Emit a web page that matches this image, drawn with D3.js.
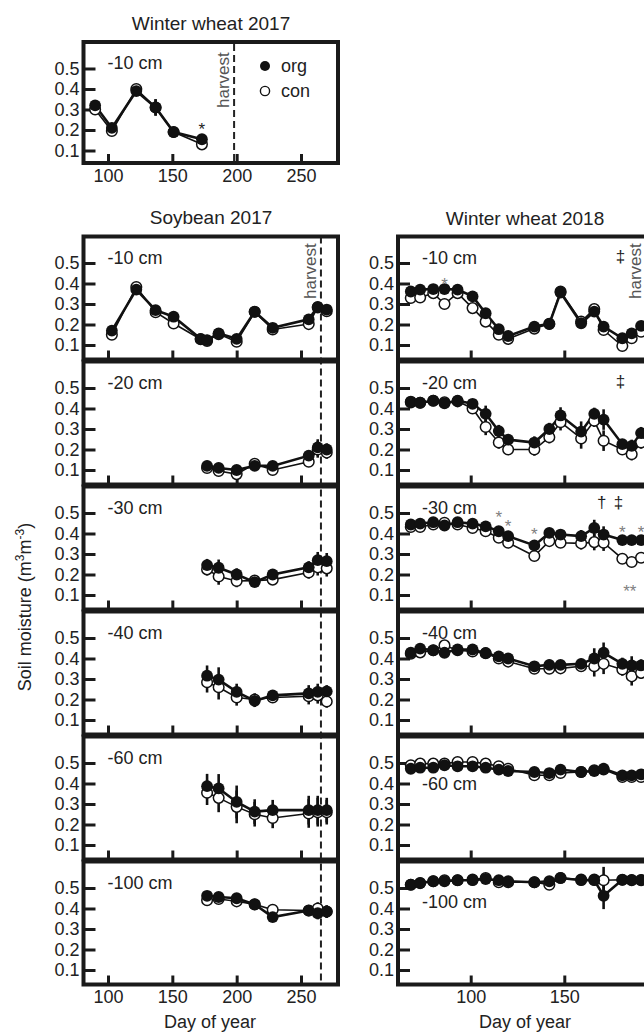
<!DOCTYPE html>
<meta charset="utf-8">
<style>
body { margin: 0; background: #fff; }
svg { display: block; font-family: "Liberation Sans", Arial, Helvetica, sans-serif; }
.axis path { display: none; }
.axis line { stroke: #1a1a1a; stroke-width: 3; }
.axis text { font-size: 18px; fill: #222; font-family: "Liberation Sans", Arial, sans-serif; }
.frame { fill: none; stroke: #1a1a1a; stroke-width: 4; }
</style>
<svg width="644" height="1033"></svg>
<script src="https://d3js.org/d3.v7.min.js"></script>
<script>
// --- data -------------------------------------------------------------
var depths = ['-10 cm', '-20 cm', '-30 cm', '-40 cm', '-60 cm', '-100 cm'];
var yTicks = [0.1, 0.2, 0.3, 0.4, 0.5];
var leftTicks = [100, 150, 200, 250];
var rightTicks = [100, 150];

// winter wheat 2017, -10 cm
var ww17Days = [90, 103, 122, 137, 151, 173];
var ww17Org = [0.32, 0.21, 0.39, 0.31, 0.19, 0.155];
var ww17Con = [0.30, 0.195, 0.40, 0.31, 0.19, 0.13];
var ww17Err = [0.015, 0.015, 0.015, 0.04, 0.01, 0.015];
var ww17Harvest = 198;

// soybean 2017
var soyDays = [
  [103, 122, 137, 151, 172, 177, 186, 200, 214, 228, 256, 263, 270],
  [177, 186, 200, 214, 228, 256, 263, 270],
  [177, 186, 200, 214, 228, 256, 263, 270],
  [177, 186, 200, 214, 228, 256, 263, 270],
  [177, 186, 200, 214, 228, 256, 263, 270],
  [177, 186, 200, 214, 228, 256, 263, 270]
];
var soyOrg = [
  [0.17, 0.37, 0.27, 0.238, 0.13, 0.124, 0.157, 0.13, 0.262, 0.184, 0.225, 0.286, 0.273],
  [0.12, 0.11, 0.10, 0.12, 0.12, 0.17, 0.21, 0.20],
  [0.246, 0.233, 0.20, 0.163, 0.20, 0.235, 0.27, 0.265],
  [0.316, 0.297, 0.237, 0.193, 0.22, 0.23, 0.237, 0.24],
  [0.387, 0.376, 0.31, 0.263, 0.27, 0.27, 0.27, 0.27],
  [0.462, 0.456, 0.45, 0.42, 0.358, 0.39, 0.377, 0.385]
];
var soyCon = [
  [0.15, 0.383, 0.26, 0.205, 0.128, 0.12, 0.153, 0.116, 0.262, 0.176, 0.202, 0.283, 0.265],
  [0.11, 0.095, 0.08, 0.13, 0.10, 0.14, 0.20, 0.185],
  [0.225, 0.19, 0.168, 0.17, 0.175, 0.21, 0.235, 0.23],
  [0.284, 0.26, 0.21, 0.20, 0.21, 0.216, 0.22, 0.19],
  [0.355, 0.33, 0.286, 0.25, 0.232, 0.254, 0.26, 0.26],
  [0.44, 0.446, 0.435, 0.42, 0.394, 0.39, 0.40, 0.385]
];
var soyErr = [
  [0.01, 0.01, 0.01, 0.01, 0.01, 0.01, 0.01, 0.01, 0.01, 0.01, 0.01, 0.01, 0.01],
  [0.025, 0.025, 0.02, 0.02, 0.015, 0.02, 0.04, 0.03],
  [0.03, 0.04, 0.03, 0.02, 0.015, 0.03, 0.04, 0.04],
  [0.05, 0.06, 0.04, 0.03, 0.02, 0.04, 0.04, 0.03],
  [0.06, 0.07, 0.08, 0.06, 0.05, 0.07, 0.07, 0.06],
  [0.02, 0.02, 0.02, 0.015, 0.02, 0.015, 0.03, 0.03]
];
var soyHarvest = 265.5;

// winter wheat 2018
var wwDays = [68, 73, 80, 86, 93, 101, 108, 115, 120, 134, 142, 148, 159, 166, 171, 181, 186, 191];
var wwOrg = [
  [0.361, 0.37, 0.373, 0.373, 0.37, 0.337, 0.255, 0.177, 0.144, 0.19, 0.203, 0.356, 0.206, 0.263, 0.19, 0.133, 0.157, 0.193],
  [0.434, 0.428, 0.438, 0.425, 0.438, 0.423, 0.374, 0.29, 0.248, 0.234, 0.30, 0.366, 0.287, 0.374, 0.346, 0.226, 0.218, 0.28],
  [0.444, 0.448, 0.455, 0.439, 0.455, 0.448, 0.435, 0.411, 0.387, 0.342, 0.403, 0.395, 0.387, 0.427, 0.395, 0.368, 0.368, 0.368],
  [0.428, 0.448, 0.44, 0.428, 0.444, 0.444, 0.426, 0.41, 0.40, 0.362, 0.369, 0.369, 0.374, 0.40, 0.428, 0.374, 0.366, 0.366],
  [0.472, 0.477, 0.477, 0.489, 0.484, 0.484, 0.477, 0.468, 0.461, 0.456, 0.451, 0.468, 0.456, 0.461, 0.472, 0.44, 0.44, 0.445],
  [0.516, 0.524, 0.533, 0.533, 0.538, 0.538, 0.544, 0.538, 0.533, 0.528, 0.533, 0.549, 0.538, 0.538, 0.462, 0.54, 0.54, 0.54]
];
var wwCon = [
  [0.329, 0.332, 0.353, 0.30, 0.353, 0.28, 0.214, 0.15, 0.13, 0.18, 0.203, 0.361, 0.214, 0.275, 0.173, 0.095, 0.133, 0.165],
  [0.43, 0.428, 0.438, 0.43, 0.435, 0.40, 0.31, 0.234, 0.20, 0.20, 0.26, 0.333, 0.254, 0.34, 0.243, 0.20, 0.177, 0.234],
  [0.432, 0.432, 0.444, 0.452, 0.444, 0.427, 0.411, 0.379, 0.355, 0.29, 0.363, 0.355, 0.352, 0.358, 0.355, 0.277, 0.261, 0.282],
  [0.423, 0.43, 0.44, 0.464, 0.44, 0.434, 0.426, 0.40, 0.385, 0.35, 0.35, 0.352, 0.362, 0.362, 0.374, 0.346, 0.313, 0.33],
  [0.489, 0.497, 0.497, 0.497, 0.505, 0.505, 0.497, 0.484, 0.472, 0.44, 0.44, 0.451, 0.456, 0.465, 0.468, 0.432, 0.432, 0.432],
  [0.516, 0.524, 0.533, 0.538, 0.538, 0.541, 0.549, 0.528, 0.528, 0.528, 0.516, 0.549, 0.541, 0.541, 0.538, 0.54, 0.538, 0.538]
];
var wwErr = [
  [0.01, 0.015, 0.01, 0.015, 0.01, 0.01, 0.015, 0.01, 0.01, 0.01, 0.01, 0.01, 0.01, 0.01, 0.01, 0.01, 0.015, 0.02],
  [0.01, 0.01, 0.01, 0.01, 0.01, 0.015, 0.04, 0.03, 0.02, 0.03, 0.03, 0.04, 0.05, 0.03, 0.05, 0.02, 0.03, 0.03],
  [0.01, 0.01, 0.01, 0.01, 0.01, 0.01, 0.01, 0.015, 0.01, 0.015, 0.02, 0.02, 0.03, 0.04, 0.04, 0.015, 0.02, 0.02],
  [0.01, 0.01, 0.01, 0.02, 0.01, 0.01, 0.01, 0.01, 0.015, 0.02, 0.025, 0.02, 0.025, 0.05, 0.05, 0.03, 0.045, 0.03],
  [0.01, 0.01, 0.01, 0.01, 0.01, 0.01, 0.01, 0.01, 0.01, 0.01, 0.01, 0.01, 0.01, 0.01, 0.01, 0.01, 0.01, 0.01],
  [0.01, 0.01, 0.01, 0.01, 0.01, 0.01, 0.01, 0.01, 0.01, 0.01, 0.01, 0.01, 0.01, 0.01, 0.065, 0.01, 0.01, 0.01]
];
var wwHarvest = 193.5;
// where the depth label sits (value axis); right column has two labels below the data
var soyLabelV = [0.525, 0.525, 0.525, 0.525, 0.525, 0.525];
var wwLabelV = [0.525, 0.525, 0.525, 0.525, 0.40, 0.43];

// significance marks
var ww17Marks = [{ day: 173, v: 0.222, t: '*', dark: true }];
var wwMarks = [
  { p: 0, day: 86, v: 0.417, t: '*' },
  { p: 0, day: 180, v: 0.53, t: '‡' },
  { p: 1, day: 180, v: 0.53, t: '‡' },
  { p: 2, day: 115, v: 0.50, t: '*' },
  { p: 2, day: 120, v: 0.456, t: '*' },
  { p: 2, day: 134, v: 0.417, t: '*' },
  { p: 2, day: 170, v: 0.55, t: '†' },
  { p: 2, day: 179, v: 0.55, t: '‡' },
  { p: 2, day: 181, v: 0.427, t: '*' },
  { p: 2, day: 191, v: 0.427, t: '*' },
  { p: 2, day: 185, v: 0.139, t: '**' }
];

// --- layout -----------------------------------------------------------
var svg = d3.select('svg');
var rowTop0 = 236.5, rowStep = 125, panelH = 123;

var xLeft = d3.scaleLinear().domain([100, 250]).range([108, 301]);
var xRight = d3.scaleLinear().domain([100, 150]).range([470.7, 564.3]);
var leftFrame = [83.5, 338], rightFrame = [398, 652.5];

function yScaleFor(top) {
  return d3.scaleLinear().domain([0.5, 0.1]).range([top + 26.5, top + 108.5]);
}

function drawPanel(o) {
  var g = svg.append('g');
  var y = yScaleFor(o.top);
  var x = o.x;

  g.append('g').attr('class', 'axis')
    .attr('transform', 'translate(' + o.frame[0] + ',0)')
    .call(d3.axisLeft(y).tickValues(yTicks).tickSize(-12).tickPadding(4).tickFormat(d3.format('.1f')));

  var xa = g.append('g').attr('class', 'axis')
    .attr('transform', 'translate(0,' + (o.top + o.h) + ')')
    .call(d3.axisBottom(x).tickValues(o.ticks).tickSize(-9).tickPadding(6));
  if (!o.xLabels) xa.selectAll('text').remove();

  var pts = o.days.map(function (d, i) {
    return { day: d, org: o.org[i], con: o.con[i], err: o.err[i] };
  });

  var line = function (key) {
    return d3.line().x(function (d) { return x(d.day); }).y(function (d) { return y(d[key]); });
  };

  g.append('path').datum(pts).attr('d', line('con'))
    .attr('fill', 'none').attr('stroke', '#111').attr('stroke-width', 1.6);
  g.append('path').datum(pts).attr('d', line('org'))
    .attr('fill', 'none').attr('stroke', '#111').attr('stroke-width', 2.6);

  ['con', 'org'].forEach(function (key) {
    g.selectAll('.err-' + key).data(pts).enter().append('line')
      .attr('x1', function (d) { return x(d.day); })
      .attr('x2', function (d) { return x(d.day); })
      .attr('y1', function (d) { return y(d[key] - d.err); })
      .attr('y2', function (d) { return y(d[key] + d.err); })
      .attr('stroke', '#111').attr('stroke-width', 2.6);
  });

  g.selectAll('.con').data(pts).enter().append('circle')
    .attr('cx', function (d) { return x(d.day); })
    .attr('cy', function (d) { return y(d.con); })
    .attr('r', 5.3).attr('fill', '#fff').attr('stroke', '#111').attr('stroke-width', 1.5);
  g.selectAll('.org').data(pts).enter().append('circle')
    .attr('cx', function (d) { return x(d.day); })
    .attr('cy', function (d) { return y(d.org); })
    .attr('r', 5.9).attr('fill', '#111');

  g.append('text')
    .attr('x', o.frame[0] + 24).attr('y', y(o.labelV))
    .attr('dominant-baseline', 'central')
    .attr('font-size', 18).attr('fill', '#222')
    .text(o.label);

  (o.marks || []).forEach(function (m) {
    var star = m.t.indexOf('*') >= 0;
    g.append('text')
      .attr('x', x(m.day)).attr('y', y(m.v) + (star ? 10 : 5))
      .attr('text-anchor', 'middle')
      .attr('font-size', 17)
      .attr('fill', star && !m.dark ? '#808080' : '#222')
      .text(m.t);
  });

  g.append('rect').attr('class', 'frame')
    .attr('x', o.frame[0]).attr('y', o.top)
    .attr('width', o.frame[1] - o.frame[0]).attr('height', o.h);
  return y;
}

function harvestLine(x, day, y0, y1, textBottom) {
  svg.append('line')
    .attr('x1', x(day)).attr('x2', x(day))
    .attr('y1', y0).attr('y2', y1)
    .attr('stroke', '#222').attr('stroke-width', 2)
    .attr('stroke-dasharray', '7,4');
  svg.append('text')
    .attr('transform', 'translate(' + (x(day) - 5) + ',' + textBottom + ') rotate(-90)')
    .attr('font-size', 17).attr('fill', '#555')
    .text('harvest');
}

// --- winter wheat 2017 ------------------------------------------------
svg.append('text').attr('x', 211).attr('y', 30).attr('text-anchor', 'middle')
  .attr('font-size', 19).attr('fill', '#222').text('Winter wheat 2017');

harvestLine(xLeft, ww17Harvest, 44, 163, 108);
drawPanel({
  top: 42, h: 121, x: xLeft, frame: leftFrame, ticks: leftTicks, xLabels: true,
  days: ww17Days, org: ww17Org, con: ww17Con, err: ww17Err,
  label: '-10 cm', labelV: 0.525, marks: ww17Marks
});

// legend
svg.append('circle').attr('cx', 265).attr('cy', 66).attr('r', 5).attr('fill', '#111');
svg.append('circle').attr('cx', 265).attr('cy', 91).attr('r', 4.6)
  .attr('fill', '#fff').attr('stroke', '#111').attr('stroke-width', 1.4);
svg.append('text').attr('x', 281).attr('y', 66).attr('dominant-baseline', 'central')
  .attr('font-size', 18).attr('fill', '#222').text('org');
svg.append('text').attr('x', 281).attr('y', 91).attr('dominant-baseline', 'central')
  .attr('font-size', 18).attr('fill', '#222').text('con');

// --- soybean 2017 / winter wheat 2018 ---------------------------------
svg.append('text').attr('x', 211).attr('y', 224).attr('text-anchor', 'middle')
  .attr('font-size', 19).attr('fill', '#222').text('Soybean 2017');
svg.append('text').attr('x', 525).attr('y', 225).attr('text-anchor', 'middle')
  .attr('font-size', 19).attr('fill', '#222').text('Winter wheat 2018');

var bottom = rowTop0 + 5 * rowStep + panelH;
harvestLine(xLeft, soyHarvest, rowTop0, bottom, 299);
harvestLine(xRight, wwHarvest, rowTop0, bottom, 299);

depths.forEach(function (dep, i) {
  var top = rowTop0 + i * rowStep;
  drawPanel({
    top: top, h: panelH, x: xLeft, frame: leftFrame, ticks: leftTicks, xLabels: i === 5,
    days: soyDays[i], org: soyOrg[i], con: soyCon[i], err: soyErr[i],
    label: dep, labelV: soyLabelV[i]
  });
  drawPanel({
    top: top, h: panelH, x: xRight, frame: rightFrame, ticks: rightTicks, xLabels: i === 5,
    days: wwDays, org: wwOrg[i], con: wwCon[i], err: wwErr[i],
    label: dep, labelV: wwLabelV[i],
    marks: wwMarks.filter(function (m) { return m.p === i; })
  });
});

// axis titles
svg.append('text').attr('x', 210).attr('y', 1028).attr('text-anchor', 'middle')
  .attr('font-size', 18).attr('fill', '#222').text('Day of year');
svg.append('text').attr('x', 525).attr('y', 1028).attr('text-anchor', 'middle')
  .attr('font-size', 18).attr('fill', '#222').text('Day of year');

var yl = svg.append('text')
  .attr('transform', 'translate(31,607) rotate(-90)')
  .attr('text-anchor', 'middle').attr('font-size', 18).attr('fill', '#222');
yl.append('tspan').text('Soil moisture (m');
yl.append('tspan').attr('font-size', 12).attr('baseline-shift', 'super').text('3');
yl.append('tspan').text('m');
yl.append('tspan').attr('font-size', 12).attr('baseline-shift', 'super').text('-3');
yl.append('tspan').text(')');
</script>
